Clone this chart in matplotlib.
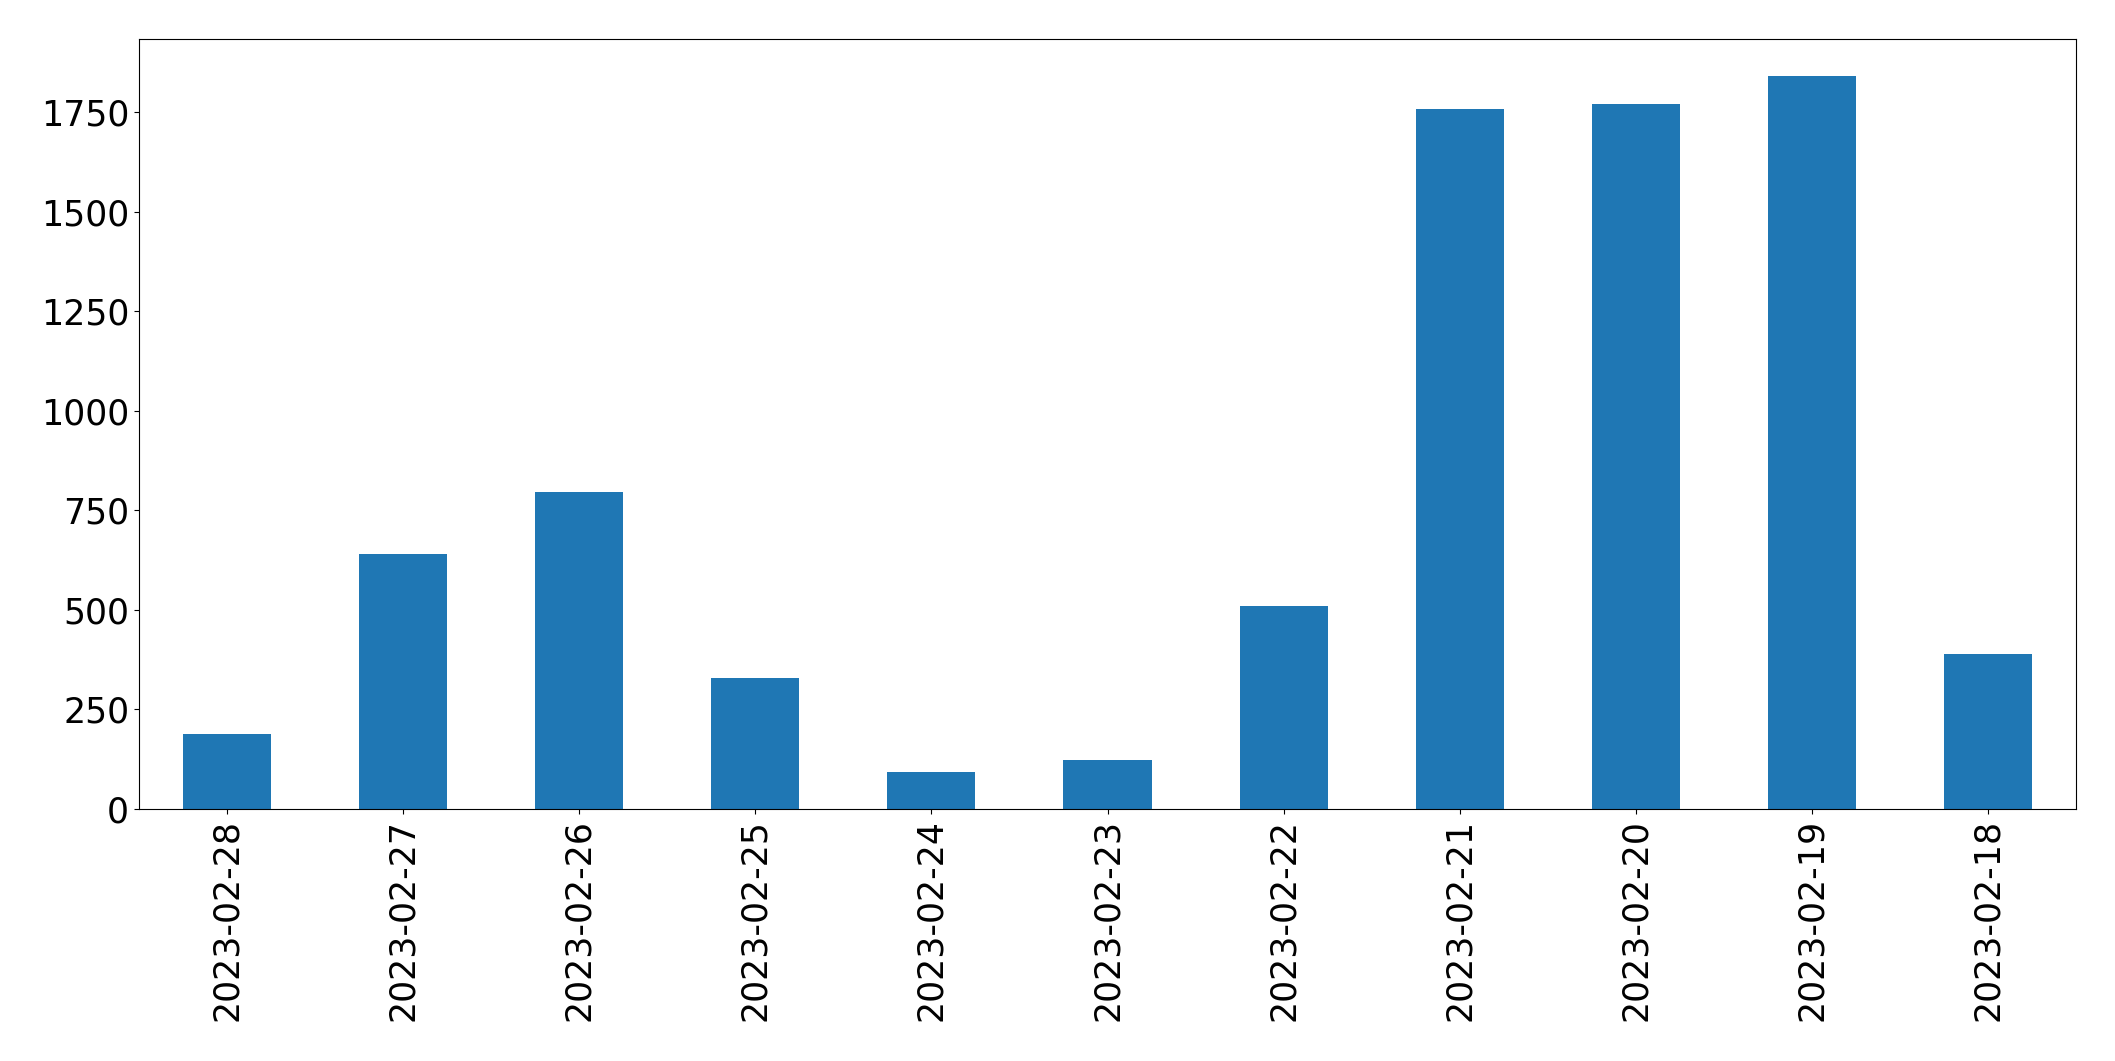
import matplotlib.pyplot as plt

plt.switch_backend("Agg")

dates = [
    "2023-02-28", "2023-02-27", "2023-02-26", "2023-02-25", "2023-02-24",
    "2023-02-23", "2023-02-22", "2023-02-21", "2023-02-20", "2023-02-19",
    "2023-02-18",
]
counts = [188, 641, 796, 329, 94, 123, 510, 1759, 1772, 1842, 390]

fig = plt.figure(figsize=(21.15, 10.61), dpi=100)
ax = fig.add_subplot(111)
fig.subplots_adjust(left=0.0657, right=0.9816, top=0.9632, bottom=0.2375)

x = range(len(dates))
ax.bar(x, counts, width=0.5, color="#1f77b4")
ax.set_xlim(-0.5, len(dates) - 0.5)
ax.set_xticks(list(x))
ax.set_xticklabels(dates, rotation=90)
ax.tick_params(axis="both", labelsize=25)

plt.savefig("out.png", dpi=100)
plt.close()
